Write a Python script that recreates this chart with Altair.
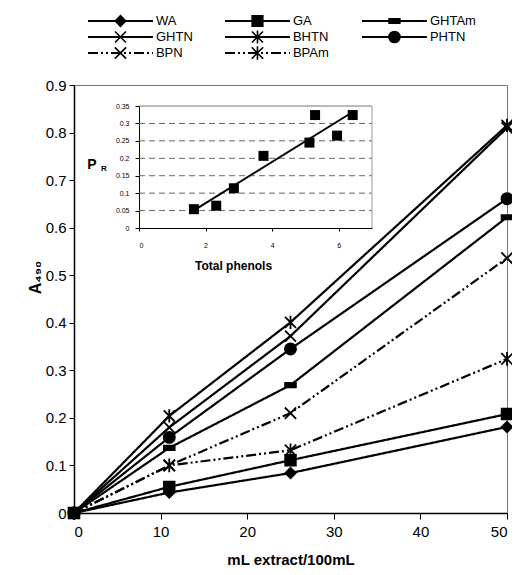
import altair as alt
import pandas as pd

# ---- main chart data ----
x_ml = [0, 11, 25, 50]
series_names = ["WA", "GA", "GHTAm", "GHTN", "BHTN", "PHTN", "BPN", "BPAm"]
wa = [0, 0.043, 0.084, 0.181]
ga = [0, 0.055, 0.111, 0.208]
ghtam = [0, 0.137, 0.269, 0.622]
ghtn = [0, 0.180, 0.372, 0.810]
bhtn = [0, 0.204, 0.401, 0.815]
phtn = [0, 0.159, 0.345, 0.661]
bpn = [0, 0.100, 0.210, 0.536]
bpam = [0, 0.100, 0.132, 0.324]

# ---- inset data ----
total_phenols = [1.65, 2.32, 2.85, 3.74, 5.12, 5.29, 5.95, 6.42]
pr_values = [0.054, 0.064, 0.114, 0.207, 0.245, 0.324, 0.265, 0.324]

# ---- tick labels ----
y_ticks = [0, 0.1, 0.2, 0.3, 0.4, 0.5, 0.6, 0.7, 0.8, 0.9]
x_ticks = [0, 10, 20, 30, 40, 50]
inset_y_ticks = [0, 0.05, 0.1, 0.15, 0.2, 0.25, 0.3, 0.35]
inset_x_ticks = [0, 2, 4, 6]
inset_grid = [0.05, 0.1, 0.15, 0.2, 0.25, 0.3]

FONT = "Liberation Sans"

series_values = [wa, ga, ghtam, ghtn, bhtn, phtn, bpn, bpam]
rows = []
for name, vals in zip(series_names, series_values):
    for xv, yv in zip(x_ml, vals):
        rows.append({"series": name, "x": xv, "y": yv})
df = pd.DataFrame(rows)

leg = pd.DataFrame({
    "series": series_names,
    "col": [i % 3 for i in range(len(series_names))],
    "row": [i // 3 for i in range(len(series_names))],
})

inset_df = pd.DataFrame({"tp": total_phenols, "pr": pr_values})
grid_df = pd.DataFrame({"g": inset_grid})
one = pd.DataFrame({"a": [0]})

X_PATH = "M-1,-1L1,1M-1,1L1,-1"
AST_PATH = "M-1,-1L1,1M-1,1L1,-1M0,-1.2L0,1.2"
BAR_PATH = "M-1,-0.4L1,-0.4L1,0.4L-1,0.4Z"

dash_scale = alt.Scale(domain=series_names,
                       range=[[1, 0]] * 6 + [[10, 3, 2, 3, 2, 3]] * 2)
width_scale = alt.Scale(domain=series_names,
                        range=[2.2, 2.2, 2.2, 2.2, 2.2, 2.2, 1.8, 1.4])
shape_scale = alt.Scale(domain=series_names,
                        range=["diamond", "square", BAR_PATH, X_PATH, AST_PATH,
                               "circle", X_PATH, AST_PATH])
size_scale = alt.Scale(domain=series_names,
                       range=[110, 130, 140, 110, 120, 160, 110, 120])

xs = alt.Scale(domain=[0, 50], nice=False)
ys = alt.Scale(domain=[0, 0.9], nice=False)

main_lines = alt.Chart(df).mark_line(color="black").encode(
    x=alt.X("x:Q", scale=xs, axis=alt.Axis(
        values=x_ticks, title="mL extract/100mL", orient="bottom",
        labelFontSize=15, titleFontSize=15, titleFontWeight="bold",
        labelFont=FONT, titleFont=FONT, labelColor="black", titleColor="black",
        domainColor="black", domainWidth=1.5, tickColor="black", tickSize=6,
        labelPadding=5, grid=False, titleY=46, titleBaseline="middle")),
    y=alt.Y("y:Q", scale=ys, axis=alt.Axis(
        values=y_ticks, format="~g", title="A₄₉₀", orient="left",
        labelFontSize=15, titleFontSize=16, titleFontWeight="bold",
        labelFont=FONT, titleFont=FONT, labelColor="black", titleColor="black",
        domainColor="black", domainWidth=1.5, tickColor="black", tickSize=5,
        labelPadding=3, grid=False, titleX=-39, titleY=192,
        titleAlign="center", titleBaseline="middle")),
    detail="series:N",
    strokeDash=alt.StrokeDash("series:N", scale=dash_scale, legend=None),
    strokeWidth=alt.StrokeWidth("series:N", scale=width_scale, legend=None),
)

main_points = alt.Chart(df).mark_point(
    filled=True, color="black", stroke="black", strokeWidth=1.8, opacity=1
).encode(
    x=alt.X("x:Q", scale=xs),
    y=alt.Y("y:Q", scale=ys),
    shape=alt.Shape("series:N", scale=shape_scale, legend=None),
    size=alt.Size("series:N", scale=size_scale, legend=None),
)

main = alt.layer(main_lines, main_points)

# ---- inset ----
ixs = alt.Scale(domain=[0, 7], range=[65, 298], nice=False)
iys = alt.Scale(domain=[0, 0.35], range=[143, 21], nice=False)

inset_grid_layer = alt.Chart(grid_df).mark_rule(
    color="#666", strokeDash=[6, 4], strokeWidth=1
).encode(
    x=alt.X(datum=0, scale=ixs),
    x2=alt.datum(7),
    y=alt.Y("g:Q", scale=iys),
)

inset_top = alt.Chart(one).mark_rule(color="#777", strokeWidth=1).encode(
    x=alt.X(datum=0, scale=ixs), x2=alt.datum(7),
    y=alt.Y(datum=0.35, scale=iys))
inset_right = alt.Chart(one).mark_rule(color="#999", strokeWidth=1).encode(
    x=alt.X(datum=7, scale=ixs),
    y=alt.Y(datum=0, scale=iys), y2=alt.datum(0.35))

inset_points = alt.Chart(inset_df).mark_point(
    filled=True, color="black", shape="square", size=100, opacity=1
).encode(
    x=alt.X("tp:Q", scale=ixs, axis=alt.Axis(
        orient="bottom", offset=-285, values=inset_x_ticks, format="d",
        title="Total phenols", titleFontSize=12, titleFontWeight="bold",
        titleFont=FONT, labelFont=FONT, labelFontSize=7,
        labelColor="black", titleColor="black", domainColor="black",
        tickColor="black", tickSize=3, labelPadding=10, grid=False,
        titleX=159, titleY=37, titleBaseline="middle", titleAlign="center")),
    y=alt.Y("pr:Q", scale=iys, axis=alt.Axis(
        orient="left", offset=-65, values=inset_y_ticks, format="~g",
        title=None, labelFont=FONT, labelFontSize=7, labelColor="black",
        domainColor="black", tickColor="black", tickSize=4,
        labelPadding=6, grid=False)),
)

inset_fit = alt.Chart(inset_df).transform_regression(
    "tp", "pr"
).mark_line(color="black", strokeWidth=2).encode(
    x=alt.X("tp:Q", scale=ixs),
    y=alt.Y("pr:Q", scale=iys),
)

p_label = alt.Chart(pd.DataFrame({"t": ["P"]})).mark_text(
    font=FONT, fontSize=14, fontWeight="bold", color="black",
    align="center", baseline="middle"
).encode(text="t:N", x=alt.value(18), y=alt.value(80))
r_label = alt.Chart(pd.DataFrame({"t": ["R"]})).mark_text(
    font=FONT, fontSize=8, fontWeight="bold", color="black",
    align="center", baseline="middle"
).encode(text="t:N", x=alt.value(30), y=alt.value(84))

inset = alt.layer(inset_grid_layer, inset_top, inset_right, inset_fit,
                  inset_points, p_label, r_label)

# ---- legend ----
lxs = alt.Scale(domain=[0, 3], range=[14, 425], nice=False, zero=False)
lys = alt.Scale(domain=[0, 2], range=[-64, -32], nice=False, zero=False)

leg_base = alt.Chart(leg).transform_calculate(
    x0="datum.col", x1="datum.col + 0.474", xm="datum.col + 0.237"
)
leg_lines = leg_base.mark_rule(color="black", strokeWidth=1.8).encode(
    x=alt.X("x0:Q", scale=lxs, axis=None),
    x2="x1:Q",
    y=alt.Y("row:Q", scale=lys, axis=None),
    strokeDash=alt.StrokeDash("series:N", scale=dash_scale, legend=None),
)
leg_points = leg_base.mark_point(
    filled=True, color="black", stroke="black", strokeWidth=1.6, opacity=1
).encode(
    x=alt.X("xm:Q", scale=lxs, axis=None),
    y=alt.Y("row:Q", scale=lys, axis=None),
    shape=alt.Shape("series:N", scale=shape_scale, legend=None),
    size=alt.Size("series:N", scale=size_scale, legend=None),
)
leg_text = leg_base.mark_text(
    font=FONT, fontSize=13, color="black", align="left", baseline="middle", dx=3
).encode(
    x=alt.X("x1:Q", scale=lxs, axis=None),
    y=alt.Y("row:Q", scale=lys, axis=None),
    text="series:N",
)
legend = alt.layer(leg_lines, leg_points, leg_text)

chart = alt.layer(main, inset, legend).resolve_scale(
    x="independent", y="independent"
).properties(
    width=433, height=428,
    autosize=alt.AutoSizeParams(type="none"),
    padding={"left": 66, "top": 77, "right": 5, "bottom": 54},
).configure_view(stroke="#777", strokeWidth=1)

chart.save("out.html", embed_options={"renderer": "svg", "actions": False})
